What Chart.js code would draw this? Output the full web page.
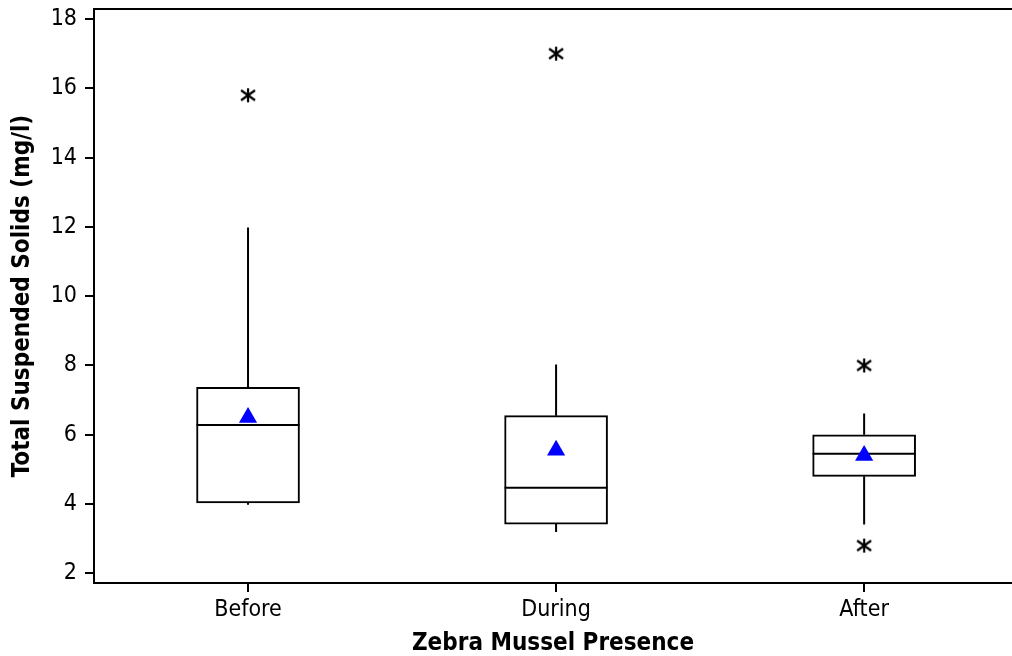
<!DOCTYPE html>
<html>
<head>
<meta charset="utf-8">
<script src="https://cdn.jsdelivr.net/npm/chart.js@4"></script>
<style>
  html, body { margin: 0; padding: 0; background: #fff; }
  #wrap { width: 1012px; height: 656px; }
</style>
</head>
<body>
<div id="wrap"><canvas id="boxChart"></canvas></div>
<script>
// values
const categories = ['Before', 'During', 'After'];
const q1 = [4.03, 3.42, 4.8];
const q3 = [7.37, 6.55, 6.0];
const medians = [6.28, 4.47, 5.45];
const means = [6.5, 5.55, 5.4];
const whiskerLow = [3.98, 3.19, 3.41];
const whiskerHigh = [11.98, 8.03, 6.61];
const outlierGroup = [0, 1, 2, 2];
const outlierValue = [15.8, 17.0, 8.0, 2.8];
const yTicks = [2, 4, 6, 8, 10, 12, 14, 16, 18];

const FONT = "'DejaVu Sans Condensed', 'DejaVu Sans', sans-serif";
Chart.defaults.font.family = FONT;
Chart.defaults.color = '#000';

// asterisk symbol for outliers
function makeAsterisk() {
    const c = document.createElement('canvas');
    c.width = 18; c.height = 16;
    const g = c.getContext('2d');
    g.strokeStyle = '#000';
    g.lineWidth = 2.2;
    g.beginPath();
    g.moveTo(9, 1); g.lineTo(9, 15);
    g.moveTo(2, 3); g.lineTo(16, 13);
    g.moveTo(16, 3); g.lineTo(2, 13);
    g.stroke();
    return c;
}
const asterisk = makeAsterisk();

const boxData = categories.map((c, i) => ({ x: i, y: [q1[i], q3[i]] }));
const whiskerData = [];
categories.forEach((c, i) => {
    whiskerData.push({ x: i, y: q3[i] }, { x: i, y: whiskerHigh[i] }, { x: i, y: null });
    whiskerData.push({ x: i, y: q1[i] }, { x: i, y: whiskerLow[i] }, { x: i, y: null });
});
const medianData = medians.map((m, i) => ({ x: i, y: m }));
const meanData = means.map((m, i) => ({ x: i, y: m }));
const outlierData = outlierValue.map((v, k) => ({ x: outlierGroup[k], y: v }));

const ctx = document.getElementById('boxChart').getContext('2d');
const boxChart = new Chart(ctx, {
    type: 'bar',
    data: {
        datasets: [
            {
                type: 'line',
                data: whiskerData,
                borderColor: '#000',
                borderWidth: 2,
                pointRadius: 0,
                spanGaps: false,
                order: 3
            },
            {
                type: 'bar',
                data: boxData,
                backgroundColor: '#fff',
                borderColor: '#000',
                borderWidth: 2,
                borderSkipped: false,
                barThickness: 103,
                order: 2
            },
            {
                type: 'scatter',
                data: medianData,
                pointStyle: 'line',
                pointRadius: 51.5,
                borderColor: '#000',
                borderWidth: 2,
                order: 1
            },
            {
                type: 'scatter',
                data: meanData,
                pointStyle: 'triangle',
                pointRadius: 10.5,
                backgroundColor: '#0000ff',
                borderColor: '#0000ff',
                borderWidth: 0,
                order: 0
            },
            {
                type: 'scatter',
                data: outlierData,
                pointStyle: asterisk,
                order: 0
            }
        ]
    },
    options: {
        responsive: true,
        maintainAspectRatio: false,
        animation: false,
        layout: { padding: 0, autoPadding: false },
        plugins: {
            legend: { display: false },
            tooltip: { enabled: false }
        },
        scales: {
            x: {
                type: 'linear',
                position: 'bottom',
                offset: false,
                min: -0.5,
                max: 2.48,
                afterBuildTicks: axis => { axis.ticks = categories.map((c, i) => ({ value: i })); },
                afterFit: axis => { axis.height = 73; axis.paddingLeft = 0; axis.paddingRight = 0; },
                ticks: {
                    callback: v => categories[v],
                    font: { size: 23 },
                    padding: 4,
                    maxRotation: 0
                },
                grid: { offset: false, drawOnChartArea: false, tickLength: 9, color: '#000', lineWidth: 2 },
                border: { color: '#000', width: 2 },
                title: {
                    display: true,
                    text: 'Zebra Mussel Presence',
                    font: { size: 24, weight: 'bold', lineHeight: 1 },
                    padding: { top: 0, bottom: 0 }
                }
            },
            x2: {
                type: 'linear',
                position: 'top',
                offset: false,
                min: -0.5,
                max: 2.48,
                afterFit: axis => { axis.height = 9; },
                ticks: { display: false },
                grid: { offset: false, drawOnChartArea: false, drawTicks: false },
                border: { color: '#000', width: 2 }
            },
            y: {
                min: 1.72,
                max: 18.29,
                afterBuildTicks: axis => { axis.ticks = yTicks.map(v => ({ value: v })); },
                afterFit: axis => { axis.width = 94; axis.paddingTop = 0; axis.paddingBottom = 0; },
                ticks: { font: { size: 23 }, padding: 8 },
                grid: { drawOnChartArea: false, tickLength: 9, color: '#000', lineWidth: 2 },
                border: { color: '#000', width: 2 },
                title: {
                    display: true,
                    text: 'Total Suspended Solids (mg/l)',
                    font: { size: 24, weight: 'bold', lineHeight: 1 },
                    padding: { top: 11, bottom: 0 }
                }
            }
        }
    }
});
</script>
</body>
</html>
